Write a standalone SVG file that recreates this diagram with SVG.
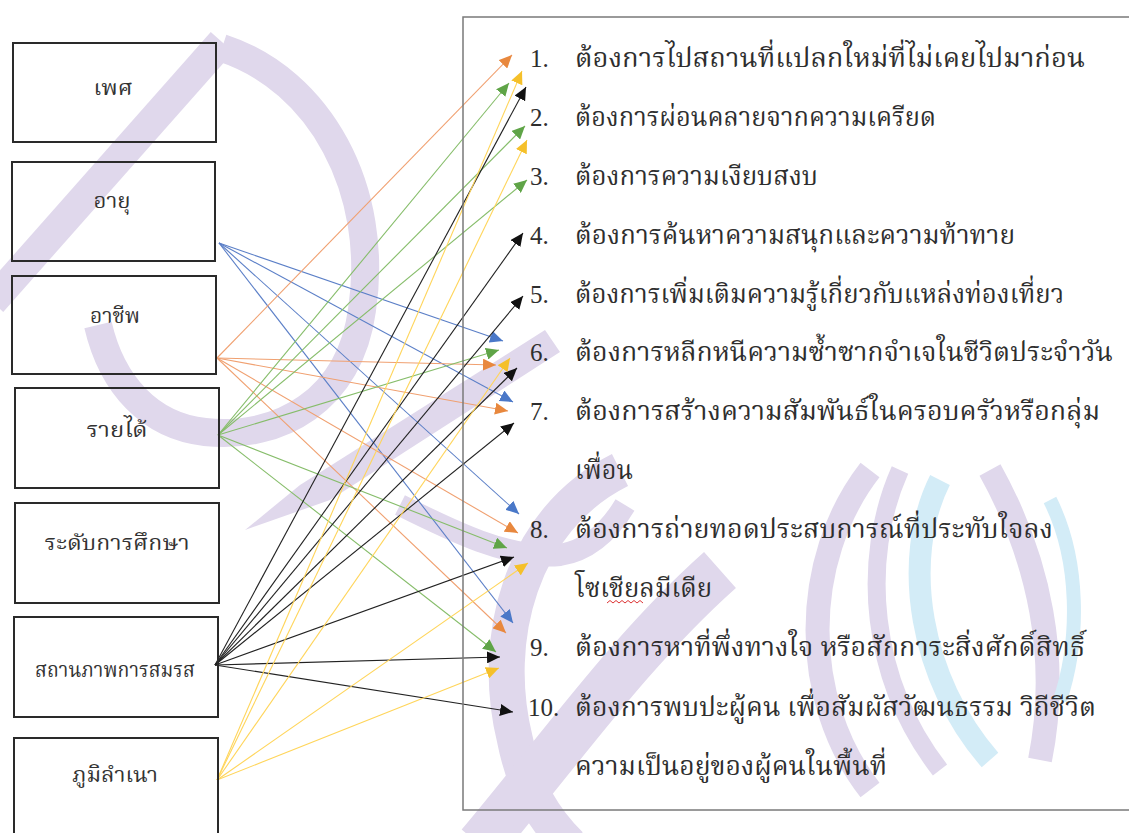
<svg xmlns="http://www.w3.org/2000/svg" width="1129" height="833" viewBox="0 0 1129 833">
<style>
.box{fill:none;stroke:#2a2a2a;stroke-width:2}
.panel{fill:none;stroke:#7a7a7a;stroke-width:1.5}
.lbl{font-family:"Noto Serif Thai","Noto Sans Thai","TH Sarabun New","Laksaman","Norasi","Garuda","Loma","DejaVu Sans",sans-serif;font-size:22px;fill:#333;text-anchor:middle}
.txt{font-family:"Noto Serif Thai","Noto Sans Thai","TH Sarabun New","Laksaman","Norasi","Garuda","Loma","DejaVu Sans",sans-serif;font-size:26px;fill:#2e2e2e}
.num{font-family:"Liberation Serif","Times New Roman",serif;font-size:25px;fill:#2e2e2e}
.wm{fill:none;stroke:#e0d8ec;stroke-linecap:butt}
.wb{fill:none;stroke:#d3ecf7}
.c{fill:none;stroke-width:1.1}
.b{stroke:#5b7fc7;marker-end:url(#mb)}
.o{stroke:#f0a070;marker-end:url(#mo)}
.g{stroke:#86bd6a;marker-end:url(#mg)}
.k{stroke:#222;marker-end:url(#mk)}
.y{stroke:#ffd55a;marker-end:url(#my)}
</style>
<defs>
<marker id="mb" markerUnits="userSpaceOnUse" markerWidth="14" markerHeight="12" refX="13" refY="6" orient="auto"><path d="M0,0 L13,6 L0,12 z" fill="#4a78c8"/></marker>
<marker id="mo" markerUnits="userSpaceOnUse" markerWidth="14" markerHeight="12" refX="13" refY="6" orient="auto"><path d="M0,0 L13,6 L0,12 z" fill="#e8883e"/></marker>
<marker id="mg" markerUnits="userSpaceOnUse" markerWidth="14" markerHeight="12" refX="13" refY="6" orient="auto"><path d="M0,0 L13,6 L0,12 z" fill="#5fa447"/></marker>
<marker id="mk" markerUnits="userSpaceOnUse" markerWidth="14" markerHeight="12" refX="13" refY="6" orient="auto"><path d="M0,0 L13,6 L0,12 z" fill="#111"/></marker>
<marker id="my" markerUnits="userSpaceOnUse" markerWidth="14" markerHeight="12" refX="13" refY="6" orient="auto"><path d="M0,0 L13,6 L0,12 z" fill="#f5c02a"/></marker>
</defs>
<rect width="1129" height="833" fill="#fff"/>
<g id="watermark">
<path class="wm" d="M222,42 L-8,302" stroke-width="30"/>
<path class="wm" d="M222,48 C320,80 380,190 362,310 C350,400 280,440 205,432 C150,426 112,385 98,325" stroke-width="28"/>
<path d="M245,530 L300,485 L545,330 L560,352 L330,500 Z" fill="#e0d8ec"/>
<path class="wm" d="M400,505 C450,530 510,560 560,555 C590,550 610,530 625,505" stroke-width="22"/>
<path class="wm" d="M620,470 C520,520 490,640 515,740 C525,790 545,820 570,845" stroke-width="36"/>
<path class="wm" d="M480,845 C560,750 630,650 720,570" stroke-width="48"/>
<path class="wm" d="M870,470 C800,560 800,700 870,790" stroke-width="24"/>
<path class="wb" d="M940,480 C900,560 920,680 990,760" stroke-width="22"/>
<path class="wm" d="M990,470 C1040,560 1060,660 1040,760" stroke-width="24"/>
<path class="wb" d="M1050,500 C1080,560 1080,640 1060,700" stroke-width="14"/>
<path class="wm" d="M900,470 C860,560 870,680 940,770" stroke-width="18"/>
</g>
<g id="connectors">
<line class="c b" x1="219" y1="243" x2="503" y2="341"/>
<line class="c b" x1="219" y1="243" x2="513" y2="402"/>
<line class="c b" x1="219" y1="243" x2="519" y2="514"/>
<line class="c b" x1="219" y1="243" x2="513" y2="623"/>
<line class="c o" x1="217" y1="358" x2="512" y2="55"/>
<line class="c o" x1="217" y1="358" x2="496" y2="365"/>
<line class="c o" x1="217" y1="358" x2="508" y2="411"/>
<line class="c o" x1="217" y1="358" x2="518" y2="533"/>
<line class="c o" x1="217" y1="358" x2="506" y2="633"/>
<line class="c g" x1="218" y1="435" x2="509" y2="83"/>
<line class="c g" x1="218" y1="435" x2="525" y2="126"/>
<line class="c g" x1="218" y1="435" x2="527" y2="180"/>
<line class="c g" x1="218" y1="435" x2="499" y2="350"/>
<line class="c g" x1="218" y1="435" x2="507" y2="548"/>
<line class="c g" x1="218" y1="435" x2="496" y2="652"/>
<line class="c k" x1="215" y1="665" x2="526" y2="87"/>
<line class="c k" x1="215" y1="665" x2="523" y2="233"/>
<line class="c k" x1="215" y1="665" x2="523" y2="296"/>
<line class="c k" x1="215" y1="665" x2="517" y2="368"/>
<line class="c k" x1="215" y1="665" x2="514" y2="423"/>
<line class="c k" x1="215" y1="665" x2="514" y2="557"/>
<line class="c k" x1="215" y1="665" x2="500" y2="657"/>
<line class="c k" x1="215" y1="665" x2="513" y2="712"/>
<line class="c y" x1="217" y1="780" x2="522" y2="71"/>
<line class="c y" x1="217" y1="780" x2="527" y2="140"/>
<line class="c y" x1="217" y1="780" x2="510" y2="358"/>
<line class="c y" x1="217" y1="780" x2="528" y2="563"/>
<line class="c y" x1="217" y1="780" x2="499" y2="668"/>
</g>
<g id="n-sex"><rect class="box" x="13" y="43" width="203" height="99"/><text class="lbl" x="113" y="95" textLength="39" lengthAdjust="spacingAndGlyphs">เพศ</text></g>
<g id="n-age"><rect class="box" x="12" y="162" width="203" height="99"/><text class="lbl" x="112" y="208" textLength="37" lengthAdjust="spacingAndGlyphs">อายุ</text></g>
<g id="n-job"><rect class="box" x="12" y="276" width="204" height="98"/><text class="lbl" x="115" y="323" textLength="50" lengthAdjust="spacingAndGlyphs">อาชีพ</text></g>
<g id="n-income"><rect class="box" x="15" y="388" width="204" height="100"/><text class="lbl" x="117" y="437" textLength="61" lengthAdjust="spacingAndGlyphs">รายได้</text></g>
<g id="n-edu"><rect class="box" x="15" y="503" width="204" height="100"/><text class="lbl" x="117" y="550" textLength="145" lengthAdjust="spacingAndGlyphs">ระดับการศึกษา</text></g>
<g id="n-marital"><rect class="box" x="14" y="617" width="204" height="100"/><text class="lbl" x="115" y="677" textLength="160" lengthAdjust="spacingAndGlyphs">สถานภาพการสมรส</text></g>
<g id="n-home"><rect class="box" x="14" y="738" width="204" height="100"/><text class="lbl" x="115" y="782" textLength="86" lengthAdjust="spacingAndGlyphs">ภูมิลำเนา</text></g>
<g id="n-motives">
<rect class="panel" x="463" y="17" width="690" height="793"/>
<text class="num" x="530" y="67">1.</text><text class="txt" x="575" y="67" textLength="510" lengthAdjust="spacingAndGlyphs">ต้องการไปสถานที่แปลกใหม่ที่ไม่เคยไปมาก่อน</text>
<text class="num" x="530" y="126">2.</text><text class="txt" x="575" y="126" textLength="361" lengthAdjust="spacingAndGlyphs">ต้องการผ่อนคลายจากความเครียด</text>
<text class="num" x="530" y="185">3.</text><text class="txt" x="575" y="185" textLength="243" lengthAdjust="spacingAndGlyphs">ต้องการความเงียบสงบ</text>
<text class="num" x="530" y="244">4.</text><text class="txt" x="575" y="244" textLength="440" lengthAdjust="spacingAndGlyphs">ต้องการค้นหาความสนุกและความท้าทาย</text>
<text class="num" x="530" y="303">5.</text><text class="txt" x="575" y="303" textLength="489" lengthAdjust="spacingAndGlyphs">ต้องการเพิ่มเติมความรู้เกี่ยวกับแหล่งท่องเที่ยว</text>
<text class="num" x="530" y="361">6.</text><text class="txt" x="575" y="361" textLength="538" lengthAdjust="spacingAndGlyphs">ต้องการหลีกหนีความซ้ำซากจำเจในชีวิตประจำวัน</text>
<text class="num" x="530" y="420">7.</text><text class="txt" x="575" y="420" textLength="525" lengthAdjust="spacingAndGlyphs">ต้องการสร้างความสัมพันธ์ในครอบครัวหรือกลุ่ม</text>
<text class="txt" x="575" y="479" textLength="58" lengthAdjust="spacingAndGlyphs">เพื่อน</text>
<text class="num" x="530" y="538">8.</text><text class="txt" x="575" y="538" textLength="478" lengthAdjust="spacingAndGlyphs">ต้องการถ่ายทอดประสบการณ์ที่ประทับใจลง</text>
<text class="txt" x="575" y="597" textLength="137" lengthAdjust="spacingAndGlyphs">โซเชียลมีเดีย</text>
<path d="M607,603 l3,-2.5 l3,2.5 l3,-2.5 l3,2.5 l3,-2.5 l3,2.5 l3,-2.5 l3,2.5 l3,-2.5 l3,2.5 l3,-2.5 l3,2.5" fill="none" stroke="#d33" stroke-width="1"/>
<text class="num" x="530" y="656">9.</text><text class="txt" x="575" y="656" textLength="510" lengthAdjust="spacingAndGlyphs">ต้องการหาที่พึ่งทางใจ หรือสักการะสิ่งศักดิ์สิทธิ์</text>
<text class="num" x="528" y="716">10.</text><text class="txt" x="575" y="716" textLength="521" lengthAdjust="spacingAndGlyphs">ต้องการพบปะผู้คน เพื่อสัมผัสวัฒนธรรม วิถีชีวิต</text>
<text class="txt" x="575" y="775" textLength="312" lengthAdjust="spacingAndGlyphs">ความเป็นอยู่ของผู้คนในพื้นที่</text>
</g>
</svg>
